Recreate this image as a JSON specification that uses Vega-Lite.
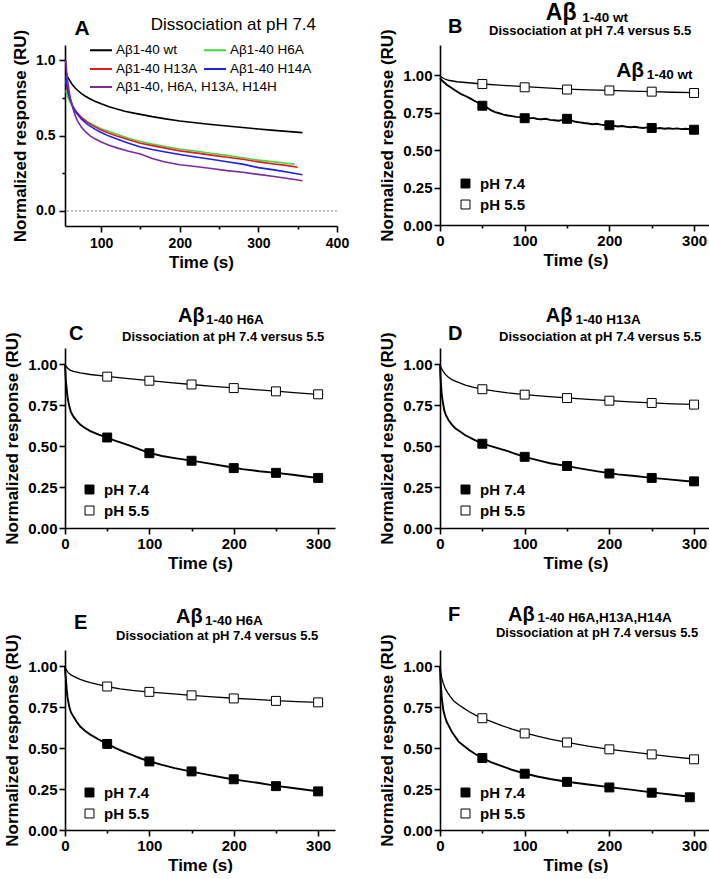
{
"$schema": "https://vega.github.io/schema/vega-lite/v6.json",
"padding": {"left": 3, "top": 1, "right": 0, "bottom": 0},
"autosize": {"type": "pad"},
"config": {
 "view": {"stroke": null},
 "font": "Liberation Sans",
 "axis": {"grid": false, "domainColor": "black", "domainWidth": 1.6, "tickColor": "black", "tickWidth": 1.6, "tickSize": 6, "labelFont": "Liberation Sans", "labelFontSize": 15, "labelFontWeight": "bold", "labelColor": "black", "labelPadding": 2, "titleFont": "Liberation Sans", "titleFontSize": 17, "titleFontWeight": "bold", "titleColor": "black", "labelOverlap": false},
 "axisX": {"titlePadding": 4, "labelFlush": false},
 "axisY": {"titlePadding": 6},
 "legend": {"labelFont": "Liberation Sans", "labelColor": "black", "padding": 0, "labelLimit": 400},
 "text": {"font": "Liberation Sans", "color": "black", "align": "left", "baseline": "alphabetic"}
},
"datasets": {
 "A": [
  {"s":"Aβ1-40 wt","t":55,"v":0.92},{"s":"Aβ1-40 wt","t":57,"v":0.89},{"s":"Aβ1-40 wt","t":60,"v":0.865},{"s":"Aβ1-40 wt","t":63,"v":0.84},{"s":"Aβ1-40 wt","t":67,"v":0.815},{"s":"Aβ1-40 wt","t":71,"v":0.795},{"s":"Aβ1-40 wt","t":75,"v":0.778},{"s":"Aβ1-40 wt","t":80,"v":0.76},{"s":"Aβ1-40 wt","t":85,"v":0.745},{"s":"Aβ1-40 wt","t":92,"v":0.727},{"s":"Aβ1-40 wt","t":100,"v":0.71},{"s":"Aβ1-40 wt","t":110,"v":0.691},{"s":"Aβ1-40 wt","t":120,"v":0.675},{"s":"Aβ1-40 wt","t":130,"v":0.661},{"s":"Aβ1-40 wt","t":140,"v":0.65},{"s":"Aβ1-40 wt","t":150,"v":0.64},{"s":"Aβ1-40 wt","t":165,"v":0.625},{"s":"Aβ1-40 wt","t":180,"v":0.612},{"s":"Aβ1-40 wt","t":200,"v":0.596},{"s":"Aβ1-40 wt","t":220,"v":0.584},{"s":"Aβ1-40 wt","t":240,"v":0.573},{"s":"Aβ1-40 wt","t":260,"v":0.563},{"s":"Aβ1-40 wt","t":280,"v":0.553},{"s":"Aβ1-40 wt","t":300,"v":0.543},{"s":"Aβ1-40 wt","t":320,"v":0.534},{"s":"Aβ1-40 wt","t":340,"v":0.526},{"s":"Aβ1-40 wt","t":356,"v":0.519},
  {"s":"Aβ1-40 H6A","t":55,"v":0.8},{"s":"Aβ1-40 H6A","t":57,"v":0.765},{"s":"Aβ1-40 H6A","t":60,"v":0.725},{"s":"Aβ1-40 H6A","t":64,"v":0.685},{"s":"Aβ1-40 H6A","t":68,"v":0.655},{"s":"Aβ1-40 H6A","t":75,"v":0.62},{"s":"Aβ1-40 H6A","t":83,"v":0.59},{"s":"Aβ1-40 H6A","t":92,"v":0.565},{"s":"Aβ1-40 H6A","t":100,"v":0.545},{"s":"Aβ1-40 H6A","t":110,"v":0.526},{"s":"Aβ1-40 H6A","t":120,"v":0.508},{"s":"Aβ1-40 H6A","t":135,"v":0.482},{"s":"Aβ1-40 H6A","t":150,"v":0.46},{"s":"Aβ1-40 H6A","t":165,"v":0.443},{"s":"Aβ1-40 H6A","t":180,"v":0.429},{"s":"Aβ1-40 H6A","t":200,"v":0.411},{"s":"Aβ1-40 H6A","t":220,"v":0.397},{"s":"Aβ1-40 H6A","t":240,"v":0.382},{"s":"Aβ1-40 H6A","t":260,"v":0.368},{"s":"Aβ1-40 H6A","t":280,"v":0.352},{"s":"Aβ1-40 H6A","t":300,"v":0.337},{"s":"Aβ1-40 H6A","t":320,"v":0.325},{"s":"Aβ1-40 H6A","t":335,"v":0.316},{"s":"Aβ1-40 H6A","t":346,"v":0.31},
  {"s":"Aβ1-40 H13A","t":55,"v":0.87},{"s":"Aβ1-40 H13A","t":57,"v":0.8},{"s":"Aβ1-40 H13A","t":60,"v":0.745},{"s":"Aβ1-40 H13A","t":64,"v":0.695},{"s":"Aβ1-40 H13A","t":68,"v":0.66},{"s":"Aβ1-40 H13A","t":75,"v":0.618},{"s":"Aβ1-40 H13A","t":83,"v":0.585},{"s":"Aβ1-40 H13A","t":92,"v":0.557},{"s":"Aβ1-40 H13A","t":100,"v":0.536},{"s":"Aβ1-40 H13A","t":110,"v":0.515},{"s":"Aβ1-40 H13A","t":120,"v":0.497},{"s":"Aβ1-40 H13A","t":135,"v":0.472},{"s":"Aβ1-40 H13A","t":150,"v":0.449},{"s":"Aβ1-40 H13A","t":165,"v":0.433},{"s":"Aβ1-40 H13A","t":180,"v":0.418},{"s":"Aβ1-40 H13A","t":200,"v":0.398},{"s":"Aβ1-40 H13A","t":220,"v":0.385},{"s":"Aβ1-40 H13A","t":240,"v":0.37},{"s":"Aβ1-40 H13A","t":260,"v":0.356},{"s":"Aβ1-40 H13A","t":280,"v":0.342},{"s":"Aβ1-40 H13A","t":300,"v":0.325},{"s":"Aβ1-40 H13A","t":320,"v":0.311},{"s":"Aβ1-40 H13A","t":335,"v":0.302},{"s":"Aβ1-40 H13A","t":350,"v":0.29},
  {"s":"Aβ1-40 H14A","t":55,"v":0.9},{"s":"Aβ1-40 H14A","t":57,"v":0.81},{"s":"Aβ1-40 H14A","t":60,"v":0.745},{"s":"Aβ1-40 H14A","t":64,"v":0.69},{"s":"Aβ1-40 H14A","t":68,"v":0.652},{"s":"Aβ1-40 H14A","t":75,"v":0.608},{"s":"Aβ1-40 H14A","t":83,"v":0.572},{"s":"Aβ1-40 H14A","t":92,"v":0.542},{"s":"Aβ1-40 H14A","t":100,"v":0.52},{"s":"Aβ1-40 H14A","t":110,"v":0.496},{"s":"Aβ1-40 H14A","t":120,"v":0.476},{"s":"Aβ1-40 H14A","t":135,"v":0.448},{"s":"Aβ1-40 H14A","t":150,"v":0.424},{"s":"Aβ1-40 H14A","t":165,"v":0.407},{"s":"Aβ1-40 H14A","t":180,"v":0.392},{"s":"Aβ1-40 H14A","t":200,"v":0.374},{"s":"Aβ1-40 H14A","t":220,"v":0.358},{"s":"Aβ1-40 H14A","t":240,"v":0.343},{"s":"Aβ1-40 H14A","t":260,"v":0.326},{"s":"Aβ1-40 H14A","t":280,"v":0.31},{"s":"Aβ1-40 H14A","t":300,"v":0.287},{"s":"Aβ1-40 H14A","t":320,"v":0.272},{"s":"Aβ1-40 H14A","t":340,"v":0.255},{"s":"Aβ1-40 H14A","t":356,"v":0.24},
  {"s":"Aβ1-40, H6A, H13A, H14H","t":55,"v":1.0},{"s":"Aβ1-40, H6A, H13A, H14H","t":56,"v":0.93},{"s":"Aβ1-40, H6A, H13A, H14H","t":58,"v":0.84},{"s":"Aβ1-40, H6A, H13A, H14H","t":60,"v":0.77},{"s":"Aβ1-40, H6A, H13A, H14H","t":63,"v":0.7},{"s":"Aβ1-40, H6A, H13A, H14H","t":66,"v":0.645},{"s":"Aβ1-40, H6A, H13A, H14H","t":70,"v":0.595},{"s":"Aβ1-40, H6A, H13A, H14H","t":75,"v":0.555},{"s":"Aβ1-40, H6A, H13A, H14H","t":80,"v":0.525},{"s":"Aβ1-40, H6A, H13A, H14H","t":86,"v":0.498},{"s":"Aβ1-40, H6A, H13A, H14H","t":92,"v":0.478},{"s":"Aβ1-40, H6A, H13A, H14H","t":100,"v":0.457},{"s":"Aβ1-40, H6A, H13A, H14H","t":110,"v":0.436},{"s":"Aβ1-40, H6A, H13A, H14H","t":120,"v":0.418},{"s":"Aβ1-40, H6A, H13A, H14H","t":135,"v":0.396},{"s":"Aβ1-40, H6A, H13A, H14H","t":150,"v":0.378},{"s":"Aβ1-40, H6A, H13A, H14H","t":165,"v":0.347},{"s":"Aβ1-40, H6A, H13A, H14H","t":180,"v":0.326},{"s":"Aβ1-40, H6A, H13A, H14H","t":200,"v":0.306},{"s":"Aβ1-40, H6A, H13A, H14H","t":220,"v":0.294},{"s":"Aβ1-40, H6A, H13A, H14H","t":240,"v":0.281},{"s":"Aβ1-40, H6A, H13A, H14H","t":260,"v":0.267},{"s":"Aβ1-40, H6A, H13A, H14H","t":280,"v":0.256},{"s":"Aβ1-40, H6A, H13A, H14H","t":300,"v":0.242},{"s":"Aβ1-40, H6A, H13A, H14H","t":320,"v":0.228},{"s":"Aβ1-40, H6A, H13A, H14H","t":340,"v":0.213},{"s":"Aβ1-40, H6A, H13A, H14H","t":356,"v":0.2}
 ],
 "curves": [
  {"p":"B","ph":"pH 5.5","t":0,"v":0.995},{"p":"B","ph":"pH 5.5","t":2,"v":0.985},{"p":"B","ph":"pH 5.5","t":5,"v":0.975},{"p":"B","ph":"pH 5.5","t":10,"v":0.965},{"p":"B","ph":"pH 5.5","t":20,"v":0.955},{"p":"B","ph":"pH 5.5","t":30,"v":0.95},{"p":"B","ph":"pH 5.5","t":40,"v":0.945},{"p":"B","ph":"pH 5.5","t":50,"v":0.94},{"p":"B","ph":"pH 5.5","t":70,"v":0.932},{"p":"B","ph":"pH 5.5","t":100,"v":0.922},{"p":"B","ph":"pH 5.5","t":130,"v":0.912},{"p":"B","ph":"pH 5.5","t":150,"v":0.906},{"p":"B","ph":"pH 5.5","t":175,"v":0.901},{"p":"B","ph":"pH 5.5","t":200,"v":0.897},{"p":"B","ph":"pH 5.5","t":225,"v":0.893},{"p":"B","ph":"pH 5.5","t":250,"v":0.889},{"p":"B","ph":"pH 5.5","t":275,"v":0.885},{"p":"B","ph":"pH 5.5","t":300,"v":0.882},{"p":"B","ph":"pH 5.5","t":306,"v":0.881},
  {"p":"B","ph":"pH 7.4","t":0,"v":0.98},{"p":"B","ph":"pH 7.4","t":2,"v":0.965},{"p":"B","ph":"pH 7.4","t":5,"v":0.95},{"p":"B","ph":"pH 7.4","t":8,"v":0.935},{"p":"B","ph":"pH 7.4","t":12,"v":0.92},{"p":"B","ph":"pH 7.4","t":16,"v":0.905},{"p":"B","ph":"pH 7.4","t":20,"v":0.89},{"p":"B","ph":"pH 7.4","t":25,"v":0.873},{"p":"B","ph":"pH 7.4","t":30,"v":0.86},{"p":"B","ph":"pH 7.4","t":35,"v":0.846},{"p":"B","ph":"pH 7.4","t":40,"v":0.83},{"p":"B","ph":"pH 7.4","t":45,"v":0.815},{"p":"B","ph":"pH 7.4","t":50,"v":0.8},{"p":"B","ph":"pH 7.4","t":55,"v":0.785},{"p":"B","ph":"pH 7.4","t":60,"v":0.766},{"p":"B","ph":"pH 7.4","t":65,"v":0.753},{"p":"B","ph":"pH 7.4","t":70,"v":0.745},{"p":"B","ph":"pH 7.4","t":75,"v":0.736},{"p":"B","ph":"pH 7.4","t":80,"v":0.73},{"p":"B","ph":"pH 7.4","t":85,"v":0.726},{"p":"B","ph":"pH 7.4","t":90,"v":0.721},{"p":"B","ph":"pH 7.4","t":95,"v":0.719},{"p":"B","ph":"pH 7.4","t":100,"v":0.715},{"p":"B","ph":"pH 7.4","t":105,"v":0.711},{"p":"B","ph":"pH 7.4","t":110,"v":0.714},{"p":"B","ph":"pH 7.4","t":115,"v":0.707},{"p":"B","ph":"pH 7.4","t":120,"v":0.705},{"p":"B","ph":"pH 7.4","t":125,"v":0.708},{"p":"B","ph":"pH 7.4","t":130,"v":0.701},{"p":"B","ph":"pH 7.4","t":135,"v":0.698},{"p":"B","ph":"pH 7.4","t":140,"v":0.695},{"p":"B","ph":"pH 7.4","t":145,"v":0.701},{"p":"B","ph":"pH 7.4","t":150,"v":0.704},{"p":"B","ph":"pH 7.4","t":155,"v":0.697},{"p":"B","ph":"pH 7.4","t":160,"v":0.688},{"p":"B","ph":"pH 7.4","t":165,"v":0.684},{"p":"B","ph":"pH 7.4","t":170,"v":0.68},{"p":"B","ph":"pH 7.4","t":175,"v":0.677},{"p":"B","ph":"pH 7.4","t":180,"v":0.672},{"p":"B","ph":"pH 7.4","t":185,"v":0.675},{"p":"B","ph":"pH 7.4","t":190,"v":0.669},{"p":"B","ph":"pH 7.4","t":195,"v":0.667},{"p":"B","ph":"pH 7.4","t":200,"v":0.668},{"p":"B","ph":"pH 7.4","t":205,"v":0.662},{"p":"B","ph":"pH 7.4","t":210,"v":0.657},{"p":"B","ph":"pH 7.4","t":215,"v":0.66},{"p":"B","ph":"pH 7.4","t":220,"v":0.655},{"p":"B","ph":"pH 7.4","t":225,"v":0.652},{"p":"B","ph":"pH 7.4","t":230,"v":0.655},{"p":"B","ph":"pH 7.4","t":235,"v":0.65},{"p":"B","ph":"pH 7.4","t":240,"v":0.647},{"p":"B","ph":"pH 7.4","t":245,"v":0.651},{"p":"B","ph":"pH 7.4","t":250,"v":0.648},{"p":"B","ph":"pH 7.4","t":255,"v":0.644},{"p":"B","ph":"pH 7.4","t":260,"v":0.647},{"p":"B","ph":"pH 7.4","t":265,"v":0.642},{"p":"B","ph":"pH 7.4","t":270,"v":0.645},{"p":"B","ph":"pH 7.4","t":275,"v":0.641},{"p":"B","ph":"pH 7.4","t":280,"v":0.644},{"p":"B","ph":"pH 7.4","t":285,"v":0.639},{"p":"B","ph":"pH 7.4","t":290,"v":0.642},{"p":"B","ph":"pH 7.4","t":295,"v":0.638},{"p":"B","ph":"pH 7.4","t":300,"v":0.636},
  {"p":"C","ph":"pH 5.5","t":0,"v":1.0},{"p":"C","ph":"pH 5.5","t":1,"v":0.99},{"p":"C","ph":"pH 5.5","t":3,"v":0.978},{"p":"C","ph":"pH 5.5","t":6,"v":0.965},{"p":"C","ph":"pH 5.5","t":10,"v":0.957},{"p":"C","ph":"pH 5.5","t":18,"v":0.948},{"p":"C","ph":"pH 5.5","t":30,"v":0.938},{"p":"C","ph":"pH 5.5","t":50,"v":0.926},{"p":"C","ph":"pH 5.5","t":75,"v":0.913},{"p":"C","ph":"pH 5.5","t":100,"v":0.9},{"p":"C","ph":"pH 5.5","t":125,"v":0.888},{"p":"C","ph":"pH 5.5","t":150,"v":0.877},{"p":"C","ph":"pH 5.5","t":175,"v":0.866},{"p":"C","ph":"pH 5.5","t":200,"v":0.856},{"p":"C","ph":"pH 5.5","t":225,"v":0.846},{"p":"C","ph":"pH 5.5","t":250,"v":0.836},{"p":"C","ph":"pH 5.5","t":275,"v":0.826},{"p":"C","ph":"pH 5.5","t":300,"v":0.817},{"p":"C","ph":"pH 5.5","t":306,"v":0.815},
  {"p":"C","ph":"pH 7.4","t":0,"v":1.0},{"p":"C","ph":"pH 7.4","t":0.5,"v":0.94},{"p":"C","ph":"pH 7.4","t":1,"v":0.9},{"p":"C","ph":"pH 7.4","t":2,"v":0.85},{"p":"C","ph":"pH 7.4","t":3,"v":0.8},{"p":"C","ph":"pH 7.4","t":5,"v":0.745},{"p":"C","ph":"pH 7.4","t":7,"v":0.71},{"p":"C","ph":"pH 7.4","t":10,"v":0.68},{"p":"C","ph":"pH 7.4","t":14,"v":0.655},{"p":"C","ph":"pH 7.4","t":18,"v":0.632},{"p":"C","ph":"pH 7.4","t":24,"v":0.61},{"p":"C","ph":"pH 7.4","t":30,"v":0.592},{"p":"C","ph":"pH 7.4","t":40,"v":0.57},{"p":"C","ph":"pH 7.4","t":50,"v":0.552},{"p":"C","ph":"pH 7.4","t":60,"v":0.533},{"p":"C","ph":"pH 7.4","t":70,"v":0.515},{"p":"C","ph":"pH 7.4","t":80,"v":0.497},{"p":"C","ph":"pH 7.4","t":90,"v":0.477},{"p":"C","ph":"pH 7.4","t":100,"v":0.459},{"p":"C","ph":"pH 7.4","t":115,"v":0.44},{"p":"C","ph":"pH 7.4","t":130,"v":0.427},{"p":"C","ph":"pH 7.4","t":150,"v":0.412},{"p":"C","ph":"pH 7.4","t":170,"v":0.395},{"p":"C","ph":"pH 7.4","t":190,"v":0.377},{"p":"C","ph":"pH 7.4","t":210,"v":0.36},{"p":"C","ph":"pH 7.4","t":230,"v":0.347},{"p":"C","ph":"pH 7.4","t":250,"v":0.337},{"p":"C","ph":"pH 7.4","t":270,"v":0.325},{"p":"C","ph":"pH 7.4","t":290,"v":0.312},{"p":"C","ph":"pH 7.4","t":300,"v":0.306},
  {"p":"D","ph":"pH 5.5","t":0,"v":1.0},{"p":"D","ph":"pH 5.5","t":1,"v":0.985},{"p":"D","ph":"pH 5.5","t":2,"v":0.972},{"p":"D","ph":"pH 5.5","t":4,"v":0.955},{"p":"D","ph":"pH 5.5","t":7,"v":0.935},{"p":"D","ph":"pH 5.5","t":10,"v":0.921},{"p":"D","ph":"pH 5.5","t":14,"v":0.907},{"p":"D","ph":"pH 5.5","t":18,"v":0.898},{"p":"D","ph":"pH 5.5","t":24,"v":0.885},{"p":"D","ph":"pH 5.5","t":30,"v":0.873},{"p":"D","ph":"pH 5.5","t":40,"v":0.86},{"p":"D","ph":"pH 5.5","t":50,"v":0.849},{"p":"D","ph":"pH 5.5","t":65,"v":0.836},{"p":"D","ph":"pH 5.5","t":80,"v":0.826},{"p":"D","ph":"pH 5.5","t":100,"v":0.815},{"p":"D","ph":"pH 5.5","t":125,"v":0.804},{"p":"D","ph":"pH 5.5","t":150,"v":0.795},{"p":"D","ph":"pH 5.5","t":175,"v":0.786},{"p":"D","ph":"pH 5.5","t":200,"v":0.778},{"p":"D","ph":"pH 5.5","t":225,"v":0.771},{"p":"D","ph":"pH 5.5","t":250,"v":0.765},{"p":"D","ph":"pH 5.5","t":275,"v":0.759},{"p":"D","ph":"pH 5.5","t":300,"v":0.755},{"p":"D","ph":"pH 5.5","t":306,"v":0.754},
  {"p":"D","ph":"pH 7.4","t":0,"v":1.0},{"p":"D","ph":"pH 7.4","t":0.5,"v":0.93},{"p":"D","ph":"pH 7.4","t":1,"v":0.89},{"p":"D","ph":"pH 7.4","t":2,"v":0.82},{"p":"D","ph":"pH 7.4","t":3,"v":0.78},{"p":"D","ph":"pH 7.4","t":5,"v":0.72},{"p":"D","ph":"pH 7.4","t":7,"v":0.69},{"p":"D","ph":"pH 7.4","t":10,"v":0.66},{"p":"D","ph":"pH 7.4","t":14,"v":0.632},{"p":"D","ph":"pH 7.4","t":18,"v":0.61},{"p":"D","ph":"pH 7.4","t":24,"v":0.588},{"p":"D","ph":"pH 7.4","t":30,"v":0.567},{"p":"D","ph":"pH 7.4","t":40,"v":0.54},{"p":"D","ph":"pH 7.4","t":50,"v":0.516},{"p":"D","ph":"pH 7.4","t":60,"v":0.5},{"p":"D","ph":"pH 7.4","t":70,"v":0.485},{"p":"D","ph":"pH 7.4","t":80,"v":0.47},{"p":"D","ph":"pH 7.4","t":90,"v":0.452},{"p":"D","ph":"pH 7.4","t":100,"v":0.435},{"p":"D","ph":"pH 7.4","t":115,"v":0.415},{"p":"D","ph":"pH 7.4","t":130,"v":0.396},{"p":"D","ph":"pH 7.4","t":150,"v":0.378},{"p":"D","ph":"pH 7.4","t":170,"v":0.36},{"p":"D","ph":"pH 7.4","t":190,"v":0.343},{"p":"D","ph":"pH 7.4","t":210,"v":0.328},{"p":"D","ph":"pH 7.4","t":230,"v":0.318},{"p":"D","ph":"pH 7.4","t":250,"v":0.306},{"p":"D","ph":"pH 7.4","t":270,"v":0.297},{"p":"D","ph":"pH 7.4","t":290,"v":0.287},{"p":"D","ph":"pH 7.4","t":300,"v":0.283},
  {"p":"E","ph":"pH 5.5","t":0,"v":1.0},{"p":"E","ph":"pH 5.5","t":1,"v":0.985},{"p":"E","ph":"pH 5.5","t":2,"v":0.975},{"p":"E","ph":"pH 5.5","t":4,"v":0.96},{"p":"E","ph":"pH 5.5","t":7,"v":0.948},{"p":"E","ph":"pH 5.5","t":10,"v":0.94},{"p":"E","ph":"pH 5.5","t":14,"v":0.93},{"p":"E","ph":"pH 5.5","t":18,"v":0.92},{"p":"E","ph":"pH 5.5","t":24,"v":0.91},{"p":"E","ph":"pH 5.5","t":30,"v":0.9},{"p":"E","ph":"pH 5.5","t":40,"v":0.888},{"p":"E","ph":"pH 5.5","t":50,"v":0.877},{"p":"E","ph":"pH 5.5","t":65,"v":0.863},{"p":"E","ph":"pH 5.5","t":80,"v":0.853},{"p":"E","ph":"pH 5.5","t":100,"v":0.843},{"p":"E","ph":"pH 5.5","t":125,"v":0.833},{"p":"E","ph":"pH 5.5","t":150,"v":0.823},{"p":"E","ph":"pH 5.5","t":175,"v":0.814},{"p":"E","ph":"pH 5.5","t":200,"v":0.805},{"p":"E","ph":"pH 5.5","t":225,"v":0.798},{"p":"E","ph":"pH 5.5","t":250,"v":0.791},{"p":"E","ph":"pH 5.5","t":275,"v":0.785},{"p":"E","ph":"pH 5.5","t":300,"v":0.78},{"p":"E","ph":"pH 5.5","t":306,"v":0.779},
  {"p":"E","ph":"pH 7.4","t":0,"v":1.0},{"p":"E","ph":"pH 7.4","t":0.5,"v":0.95},{"p":"E","ph":"pH 7.4","t":1,"v":0.93},{"p":"E","ph":"pH 7.4","t":2,"v":0.86},{"p":"E","ph":"pH 7.4","t":3,"v":0.81},{"p":"E","ph":"pH 7.4","t":5,"v":0.755},{"p":"E","ph":"pH 7.4","t":7,"v":0.72},{"p":"E","ph":"pH 7.4","t":10,"v":0.693},{"p":"E","ph":"pH 7.4","t":14,"v":0.66},{"p":"E","ph":"pH 7.4","t":18,"v":0.632},{"p":"E","ph":"pH 7.4","t":24,"v":0.605},{"p":"E","ph":"pH 7.4","t":30,"v":0.583},{"p":"E","ph":"pH 7.4","t":40,"v":0.553},{"p":"E","ph":"pH 7.4","t":50,"v":0.526},{"p":"E","ph":"pH 7.4","t":60,"v":0.5},{"p":"E","ph":"pH 7.4","t":70,"v":0.478},{"p":"E","ph":"pH 7.4","t":80,"v":0.457},{"p":"E","ph":"pH 7.4","t":90,"v":0.437},{"p":"E","ph":"pH 7.4","t":100,"v":0.42},{"p":"E","ph":"pH 7.4","t":115,"v":0.398},{"p":"E","ph":"pH 7.4","t":130,"v":0.378},{"p":"E","ph":"pH 7.4","t":150,"v":0.357},{"p":"E","ph":"pH 7.4","t":170,"v":0.337},{"p":"E","ph":"pH 7.4","t":190,"v":0.318},{"p":"E","ph":"pH 7.4","t":210,"v":0.302},{"p":"E","ph":"pH 7.4","t":230,"v":0.287},{"p":"E","ph":"pH 7.4","t":250,"v":0.27},{"p":"E","ph":"pH 7.4","t":270,"v":0.257},{"p":"E","ph":"pH 7.4","t":290,"v":0.243},{"p":"E","ph":"pH 7.4","t":300,"v":0.237},
  {"p":"F","ph":"pH 5.5","t":0,"v":1.0},{"p":"F","ph":"pH 5.5","t":1,"v":0.96},{"p":"F","ph":"pH 5.5","t":2,"v":0.93},{"p":"F","ph":"pH 5.5","t":4,"v":0.895},{"p":"F","ph":"pH 5.5","t":6,"v":0.867},{"p":"F","ph":"pH 5.5","t":9,"v":0.84},{"p":"F","ph":"pH 5.5","t":12,"v":0.816},{"p":"F","ph":"pH 5.5","t":16,"v":0.79},{"p":"F","ph":"pH 5.5","t":22,"v":0.765},{"p":"F","ph":"pH 5.5","t":28,"v":0.745},{"p":"F","ph":"pH 5.5","t":34,"v":0.724},{"p":"F","ph":"pH 5.5","t":42,"v":0.702},{"p":"F","ph":"pH 5.5","t":50,"v":0.683},{"p":"F","ph":"pH 5.5","t":60,"v":0.664},{"p":"F","ph":"pH 5.5","t":73,"v":0.638},{"p":"F","ph":"pH 5.5","t":85,"v":0.617},{"p":"F","ph":"pH 5.5","t":100,"v":0.593},{"p":"F","ph":"pH 5.5","t":115,"v":0.573},{"p":"F","ph":"pH 5.5","t":130,"v":0.555},{"p":"F","ph":"pH 5.5","t":150,"v":0.535},{"p":"F","ph":"pH 5.5","t":175,"v":0.512},{"p":"F","ph":"pH 5.5","t":200,"v":0.493},{"p":"F","ph":"pH 5.5","t":225,"v":0.477},{"p":"F","ph":"pH 5.5","t":250,"v":0.462},{"p":"F","ph":"pH 5.5","t":275,"v":0.447},{"p":"F","ph":"pH 5.5","t":300,"v":0.434},{"p":"F","ph":"pH 5.5","t":306,"v":0.431},
  {"p":"F","ph":"pH 7.4","t":0,"v":1.0},{"p":"F","ph":"pH 7.4","t":0.5,"v":0.93},{"p":"F","ph":"pH 7.4","t":1,"v":0.89},{"p":"F","ph":"pH 7.4","t":2,"v":0.81},{"p":"F","ph":"pH 7.4","t":4,"v":0.73},{"p":"F","ph":"pH 7.4","t":6,"v":0.69},{"p":"F","ph":"pH 7.4","t":8,"v":0.66},{"p":"F","ph":"pH 7.4","t":11,"v":0.63},{"p":"F","ph":"pH 7.4","t":14,"v":0.6},{"p":"F","ph":"pH 7.4","t":18,"v":0.57},{"p":"F","ph":"pH 7.4","t":22,"v":0.54},{"p":"F","ph":"pH 7.4","t":28,"v":0.515},{"p":"F","ph":"pH 7.4","t":34,"v":0.49},{"p":"F","ph":"pH 7.4","t":42,"v":0.463},{"p":"F","ph":"pH 7.4","t":50,"v":0.44},{"p":"F","ph":"pH 7.4","t":60,"v":0.415},{"p":"F","ph":"pH 7.4","t":73,"v":0.39},{"p":"F","ph":"pH 7.4","t":85,"v":0.368},{"p":"F","ph":"pH 7.4","t":100,"v":0.345},{"p":"F","ph":"pH 7.4","t":115,"v":0.327},{"p":"F","ph":"pH 7.4","t":130,"v":0.312},{"p":"F","ph":"pH 7.4","t":150,"v":0.295},{"p":"F","ph":"pH 7.4","t":175,"v":0.278},{"p":"F","ph":"pH 7.4","t":200,"v":0.262},{"p":"F","ph":"pH 7.4","t":225,"v":0.247},{"p":"F","ph":"pH 7.4","t":250,"v":0.23},{"p":"F","ph":"pH 7.4","t":275,"v":0.215},{"p":"F","ph":"pH 7.4","t":295,"v":0.203}
 ],
 "markers": [
  {"p":"B","ph":"pH 7.4","t":50,"v":0.795},{"p":"B","ph":"pH 7.4","t":100,"v":0.712},{"p":"B","ph":"pH 7.4","t":150,"v":0.708},{"p":"B","ph":"pH 7.4","t":200,"v":0.665},{"p":"B","ph":"pH 7.4","t":250,"v":0.647},{"p":"B","ph":"pH 7.4","t":300,"v":0.635},
  {"p":"B","ph":"pH 5.5","t":50,"v":0.94},{"p":"B","ph":"pH 5.5","t":100,"v":0.918},{"p":"B","ph":"pH 5.5","t":150,"v":0.903},{"p":"B","ph":"pH 5.5","t":200,"v":0.897},{"p":"B","ph":"pH 5.5","t":250,"v":0.889},{"p":"B","ph":"pH 5.5","t":300,"v":0.88},
  {"p":"C","ph":"pH 7.4","t":50,"v":0.553},{"p":"C","ph":"pH 7.4","t":100,"v":0.457},{"p":"C","ph":"pH 7.4","t":150,"v":0.411},{"p":"C","ph":"pH 7.4","t":200,"v":0.366},{"p":"C","ph":"pH 7.4","t":250,"v":0.337},{"p":"C","ph":"pH 7.4","t":300,"v":0.306},
  {"p":"C","ph":"pH 5.5","t":50,"v":0.925},{"p":"C","ph":"pH 5.5","t":100,"v":0.9},{"p":"C","ph":"pH 5.5","t":150,"v":0.877},{"p":"C","ph":"pH 5.5","t":200,"v":0.855},{"p":"C","ph":"pH 5.5","t":250,"v":0.835},{"p":"C","ph":"pH 5.5","t":300,"v":0.817},
  {"p":"D","ph":"pH 7.4","t":50,"v":0.515},{"p":"D","ph":"pH 7.4","t":100,"v":0.435},{"p":"D","ph":"pH 7.4","t":150,"v":0.379},{"p":"D","ph":"pH 7.4","t":200,"v":0.333},{"p":"D","ph":"pH 7.4","t":250,"v":0.306},{"p":"D","ph":"pH 7.4","t":300,"v":0.285},
  {"p":"D","ph":"pH 5.5","t":50,"v":0.848},{"p":"D","ph":"pH 5.5","t":100,"v":0.815},{"p":"D","ph":"pH 5.5","t":150,"v":0.794},{"p":"D","ph":"pH 5.5","t":200,"v":0.778},{"p":"D","ph":"pH 5.5","t":250,"v":0.764},{"p":"D","ph":"pH 5.5","t":300,"v":0.754},
  {"p":"E","ph":"pH 7.4","t":50,"v":0.526},{"p":"E","ph":"pH 7.4","t":100,"v":0.419},{"p":"E","ph":"pH 7.4","t":150,"v":0.358},{"p":"E","ph":"pH 7.4","t":200,"v":0.31},{"p":"E","ph":"pH 7.4","t":250,"v":0.268},{"p":"E","ph":"pH 7.4","t":300,"v":0.236},
  {"p":"E","ph":"pH 5.5","t":50,"v":0.877},{"p":"E","ph":"pH 5.5","t":100,"v":0.844},{"p":"E","ph":"pH 5.5","t":150,"v":0.823},{"p":"E","ph":"pH 5.5","t":200,"v":0.804},{"p":"E","ph":"pH 5.5","t":250,"v":0.789},{"p":"E","ph":"pH 5.5","t":300,"v":0.78},
  {"p":"F","ph":"pH 7.4","t":50,"v":0.44},{"p":"F","ph":"pH 7.4","t":100,"v":0.344},{"p":"F","ph":"pH 7.4","t":150,"v":0.294},{"p":"F","ph":"pH 7.4","t":200,"v":0.26},{"p":"F","ph":"pH 7.4","t":250,"v":0.228},{"p":"F","ph":"pH 7.4","t":295,"v":0.2},
  {"p":"F","ph":"pH 5.5","t":50,"v":0.683},{"p":"F","ph":"pH 5.5","t":100,"v":0.59},{"p":"F","ph":"pH 5.5","t":150,"v":0.535},{"p":"F","ph":"pH 5.5","t":200,"v":0.493},{"p":"F","ph":"pH 5.5","t":250,"v":0.462},{"p":"F","ph":"pH 5.5","t":300,"v":0.432}
 ]
},
"columns": 2,
"bounds": "flush",
"spacing": {"row": 122, "column": 103},
"resolve": {"scale": {"color": "independent", "fill": "independent"}, "legend": {"color": "independent", "fill": "independent"}},
"concat": [
 {
  "width": 272, "height": 181,
  "layer": [
   {"data": {"name": "A"}, "transform": [{"filter": "datum.s != 'Aβ1-40, H6A, H13A, H14H'"}],
    "mark": {"type": "line", "strokeWidth": 1.6},
    "encoding": {
     "x": {"field": "t", "type": "quantitative", "scale": {"domain": [54, 400], "nice": false, "zero": false}, "axis": {"title": "Time (s)", "values": [100,150,200,250,300,350,400], "labelExpr": "datum.value % 100 == 0 ? datum.label : ''", "tickSize": {"condition": {"test": "datum.value % 100 != 0", "value": 3}, "value": 6}, "labelFontSize": 14, "labelPadding": 4}},
     "y": {"field": "v", "type": "quantitative", "scale": {"domain": [-0.1, 1.1], "nice": false, "zero": false}, "axis": {"title": "Normalized response (RU)", "values": [0,0.25,0.5,0.75,1], "format": ".1f", "labelExpr": "datum.value % 0.5 == 0 ? datum.label : ''", "tickSize": {"condition": {"test": "datum.value % 0.5 != 0", "value": 3}, "value": 6}, "labelFontSize": 14, "labelPadding": 4}},
     "color": {"field": "s", "type": "nominal", "scale": {"domain": ["Aβ1-40 wt","Aβ1-40 H13A","Aβ1-40 H6A","Aβ1-40 H14A"], "range": ["#000000","#e8161f","#3fdc3f","#1b22e6"]},
      "legend": {"orient": "none", "legendX": 24, "legendY": -7, "columns": 2, "columnPadding": 2, "title": null, "symbolType": "stroke", "symbolSize": 484, "symbolStrokeWidth": 2, "labelFontSize": 13.5, "labelFontWeight": "normal", "rowPadding": -5, "labelOffset": 3, "padding": 0}}
    }},
   {"data": {"name": "A"}, "transform": [{"filter": "datum.s == 'Aβ1-40, H6A, H13A, H14H'"}],
    "mark": {"type": "line", "strokeWidth": 1.6},
    "encoding": {
     "x": {"field": "t", "type": "quantitative"},
     "y": {"field": "v", "type": "quantitative"},
     "color": {"field": "s", "type": "nominal", "scale": {"domain": ["Aβ1-40, H6A, H13A, H14H"], "range": ["#7d2aa0"]},
      "legend": {"orient": "none", "legendX": 24, "legendY": 30, "title": null, "symbolType": "stroke", "symbolSize": 484, "symbolStrokeWidth": 2, "labelFontSize": 13.5, "labelFontWeight": "normal", "labelOffset": 3, "padding": 0, "labelLimit": 400}}
    }},
   {"data": {"values": [{"y0": 0}]}, "mark": {"type": "rule", "strokeDash": [2,2], "color": "#888888", "strokeWidth": 1}, "encoding": {"y": {"field": "y0", "type": "quantitative"}}},
   {"data": {"values": [{"s": "A"}]}, "mark": {"type": "text", "fontSize": 21, "fontWeight": "bold"}, "encoding": {"x": {"datum": 66}, "y": {"datum": 1.166}, "text": {"field": "s"}}},
   {"data": {"values": [{"s": "Dissociation at pH 7.4"}]}, "mark": {"type": "text", "fontSize": 17}, "encoding": {"x": {"datum": 163}, "y": {"datum": 1.2}, "text": {"field": "s"}}}
  ],
  "resolve": {"scale": {"color": "independent"}, "legend": {"color": "independent"}}
 },
 {
  "width": 271, "height": 180,
  "layer": [
   {"data": {"name": "curves"}, "transform": [{"filter": "datum.p == 'B'"}],
    "mark": {"type": "line", "color": "black"},
    "encoding": {
     "x": {"field": "t", "type": "quantitative", "scale": {"domain": [0, 320], "nice": false}, "axis": {"title": "Time (s)", "values": [0,50,100,150,200,250,300], "labelExpr": "datum.value % 100 == 0 ? datum.label : ''", "tickSize": {"condition": {"test": "datum.value % 100 != 0", "value": 3}, "value": 6}}},
     "y": {"field": "v", "type": "quantitative", "scale": {"domain": [0, 1.2], "nice": false}, "axis": {"title": "Normalized response (RU)", "values": [0,0.125,0.25,0.375,0.5,0.625,0.75,0.875,1,1.125], "format": ".2f", "labelExpr": "datum.value % 0.25 == 0 ? datum.label : ''", "tickSize": {"condition": {"test": "datum.value % 0.25 != 0", "value": 3}, "value": 6}}},
     "detail": {"field": "ph", "type": "nominal"},
     "strokeWidth": {"field": "ph", "type": "ordinal", "scale": {"domain": ["pH 7.4","pH 5.5"], "range": [1.9, 1.3]}, "legend": null}
    }},
   {"data": {"name": "markers"}, "transform": [{"filter": "datum.p == 'B'"}],
    "mark": {"type": "point", "shape": "square", "filled": true, "stroke": "black", "strokeWidth": 1, "size": 80, "opacity": 1},
    "encoding": {
     "x": {"field": "t", "type": "quantitative"},
     "y": {"field": "v", "type": "quantitative"},
     "fill": {"field": "ph", "type": "nominal", "scale": {"domain": ["pH 7.4","pH 5.5"], "range": ["black","white"]},
      "legend": {"orient": "none", "legendX": 18, "legendY": 131, "title": null, "symbolType": "square", "symbolSize": 80, "symbolStrokeColor": "black", "symbolStrokeWidth": 1, "labelFontSize": 15, "labelFontWeight": "bold", "rowPadding": 5, "labelOffset": 7, "padding": 0}}
    }},
   {"data": {"values": [{"s": "B"}]}, "mark": {"type": "text", "fontSize": 20, "fontWeight": "bold"}, "encoding": {"x": {"datum": 9.4}, "y": {"datum": 1.28}, "text": {"field": "s"}}},
   {"data": {"values": [{"s": "Aβ"}]}, "mark": {"type": "text", "fontSize": 23, "fontWeight": "bold"}, "encoding": {"x": {"datum": 125}, "y": {"datum": 1.367}, "text": {"field": "s"}}},
   {"data": {"values": [{"s": "1-40 wt"}]}, "mark": {"type": "text", "fontSize": 13.5, "fontWeight": "bold"}, "encoding": {"x": {"datum": 168}, "y": {"datum": 1.356}, "text": {"field": "s"}}},
   {"data": {"values": [{"s": "Dissociation at pH 7.4 versus 5.5"}]}, "mark": {"type": "text", "fontSize": 13, "fontWeight": "bold"}, "encoding": {"x": {"datum": 57.9}, "y": {"datum": 1.267}, "text": {"field": "s"}}},
   {"data": {"values": [{"s": "Aβ"}]}, "mark": {"type": "text", "fontSize": 21, "fontWeight": "bold"}, "encoding": {"x": {"datum": 208}, "y": {"datum": 0.987}, "text": {"field": "s"}}},
   {"data": {"values": [{"s": "1-40 wt"}]}, "mark": {"type": "text", "fontSize": 13.5, "fontWeight": "bold"}, "encoding": {"x": {"datum": 244}, "y": {"datum": 0.973}, "text": {"field": "s"}}}
  ]
 },
 {
  "width": 270, "height": 180,
  "layer": [
   {"data": {"name": "curves"}, "transform": [{"filter": "datum.p == 'C'"}],
    "mark": {"type": "line", "color": "black"},
    "encoding": {
     "x": {"field": "t", "type": "quantitative", "scale": {"domain": [0, 320], "nice": false}, "axis": {"title": "Time (s)", "values": [0,50,100,150,200,250,300], "labelExpr": "datum.value % 100 == 0 ? datum.label : ''", "tickSize": {"condition": {"test": "datum.value % 100 != 0", "value": 3}, "value": 6}}},
     "y": {"field": "v", "type": "quantitative", "scale": {"domain": [0, 1.1], "nice": false}, "axis": {"title": "Normalized response (RU)", "values": [0,0.125,0.25,0.375,0.5,0.625,0.75,0.875,1], "format": ".2f", "labelExpr": "datum.value % 0.25 == 0 ? datum.label : ''", "tickSize": {"condition": {"test": "datum.value % 0.25 != 0", "value": 3}, "value": 6}}},
     "detail": {"field": "ph", "type": "nominal"},
     "strokeWidth": {"field": "ph", "type": "ordinal", "scale": {"domain": ["pH 7.4","pH 5.5"], "range": [1.9, 1.3]}, "legend": null}
    }},
   {"data": {"name": "markers"}, "transform": [{"filter": "datum.p == 'C'"}],
    "mark": {"type": "point", "shape": "square", "filled": true, "stroke": "black", "strokeWidth": 1, "size": 80, "opacity": 1},
    "encoding": {
     "x": {"field": "t", "type": "quantitative"},
     "y": {"field": "v", "type": "quantitative"},
     "fill": {"field": "ph", "type": "nominal", "scale": {"domain": ["pH 7.4","pH 5.5"], "range": ["black","white"]},
      "legend": {"orient": "none", "legendX": 17, "legendY": 134, "title": null, "symbolType": "square", "symbolSize": 80, "symbolStrokeColor": "black", "symbolStrokeWidth": 1, "labelFontSize": 15, "labelFontWeight": "bold", "rowPadding": 5, "labelOffset": 7, "padding": 0}}
    }},
   {"data": {"values": [{"s": "C"}]}, "mark": {"type": "text", "fontSize": 20, "fontWeight": "bold"}, "encoding": {"x": {"datum": 4.7}, "y": {"datum": 1.149}, "text": {"field": "s"}}},
   {"data": {"values": [{"s": "Aβ"}]}, "mark": {"type": "text", "fontSize": 20, "fontWeight": "bold"}, "encoding": {"x": {"datum": 134}, "y": {"datum": 1.259}, "text": {"field": "s"}}},
   {"data": {"values": [{"s": "1-40 H6A"}]}, "mark": {"type": "text", "fontSize": 13.5, "fontWeight": "bold"}, "encoding": {"x": {"datum": 167}, "y": {"datum": 1.246}, "text": {"field": "s"}}},
   {"data": {"values": [{"s": "Dissociation at pH 7.4 versus 5.5"}]}, "mark": {"type": "text", "fontSize": 13, "fontWeight": "bold"}, "encoding": {"x": {"datum": 67.6}, "y": {"datum": 1.143}, "text": {"field": "s"}}}
  ]
 },
 {
  "width": 271, "height": 180,
  "layer": [
   {"data": {"name": "curves"}, "transform": [{"filter": "datum.p == 'D'"}],
    "mark": {"type": "line", "color": "black"},
    "encoding": {
     "x": {"field": "t", "type": "quantitative", "scale": {"domain": [0, 320], "nice": false}, "axis": {"title": "Time (s)", "values": [0,50,100,150,200,250,300], "labelExpr": "datum.value % 100 == 0 ? datum.label : ''", "tickSize": {"condition": {"test": "datum.value % 100 != 0", "value": 3}, "value": 6}}},
     "y": {"field": "v", "type": "quantitative", "scale": {"domain": [0, 1.1], "nice": false}, "axis": {"title": "Normalized response (RU)", "values": [0,0.125,0.25,0.375,0.5,0.625,0.75,0.875,1], "format": ".2f", "labelExpr": "datum.value % 0.25 == 0 ? datum.label : ''", "tickSize": {"condition": {"test": "datum.value % 0.25 != 0", "value": 3}, "value": 6}}},
     "detail": {"field": "ph", "type": "nominal"},
     "strokeWidth": {"field": "ph", "type": "ordinal", "scale": {"domain": ["pH 7.4","pH 5.5"], "range": [1.9, 1.3]}, "legend": null}
    }},
   {"data": {"name": "markers"}, "transform": [{"filter": "datum.p == 'D'"}],
    "mark": {"type": "point", "shape": "square", "filled": true, "stroke": "black", "strokeWidth": 1, "size": 80, "opacity": 1},
    "encoding": {
     "x": {"field": "t", "type": "quantitative"},
     "y": {"field": "v", "type": "quantitative"},
     "fill": {"field": "ph", "type": "nominal", "scale": {"domain": ["pH 7.4","pH 5.5"], "range": ["black","white"]},
      "legend": {"orient": "none", "legendX": 18, "legendY": 134, "title": null, "symbolType": "square", "symbolSize": 80, "symbolStrokeColor": "black", "symbolStrokeWidth": 1, "labelFontSize": 15, "labelFontWeight": "bold", "rowPadding": 5, "labelOffset": 7, "padding": 0}}
    }},
   {"data": {"values": [{"s": "D"}]}, "mark": {"type": "text", "fontSize": 20, "fontWeight": "bold"}, "encoding": {"x": {"datum": 9.4}, "y": {"datum": 1.149}, "text": {"field": "s"}}},
   {"data": {"values": [{"s": "Aβ"}]}, "mark": {"type": "text", "fontSize": 20, "fontWeight": "bold"}, "encoding": {"x": {"datum": 125}, "y": {"datum": 1.259}, "text": {"field": "s"}}},
   {"data": {"values": [{"s": "1-40 H13A"}]}, "mark": {"type": "text", "fontSize": 13.5, "fontWeight": "bold"}, "encoding": {"x": {"datum": 160}, "y": {"datum": 1.246}, "text": {"field": "s"}}},
   {"data": {"values": [{"s": "Dissociation at pH 7.4 versus 5.5"}]}, "mark": {"type": "text", "fontSize": 13, "fontWeight": "bold"}, "encoding": {"x": {"datum": 69.7}, "y": {"datum": 1.143}, "text": {"field": "s"}}}
  ]
 },
 {
  "width": 270, "height": 180,
  "layer": [
   {"data": {"name": "curves"}, "transform": [{"filter": "datum.p == 'E'"}],
    "mark": {"type": "line", "color": "black"},
    "encoding": {
     "x": {"field": "t", "type": "quantitative", "scale": {"domain": [0, 320], "nice": false}, "axis": {"title": "Time (s)", "values": [0,50,100,150,200,250,300], "labelExpr": "datum.value % 100 == 0 ? datum.label : ''", "tickSize": {"condition": {"test": "datum.value % 100 != 0", "value": 3}, "value": 6}}},
     "y": {"field": "v", "type": "quantitative", "scale": {"domain": [0, 1.1], "nice": false}, "axis": {"title": "Normalized response (RU)", "values": [0,0.125,0.25,0.375,0.5,0.625,0.75,0.875,1], "format": ".2f", "labelExpr": "datum.value % 0.25 == 0 ? datum.label : ''", "tickSize": {"condition": {"test": "datum.value % 0.25 != 0", "value": 3}, "value": 6}}},
     "detail": {"field": "ph", "type": "nominal"},
     "strokeWidth": {"field": "ph", "type": "ordinal", "scale": {"domain": ["pH 7.4","pH 5.5"], "range": [1.9, 1.3]}, "legend": null}
    }},
   {"data": {"name": "markers"}, "transform": [{"filter": "datum.p == 'E'"}],
    "mark": {"type": "point", "shape": "square", "filled": true, "stroke": "black", "strokeWidth": 1, "size": 80, "opacity": 1},
    "encoding": {
     "x": {"field": "t", "type": "quantitative"},
     "y": {"field": "v", "type": "quantitative"},
     "fill": {"field": "ph", "type": "nominal", "scale": {"domain": ["pH 7.4","pH 5.5"], "range": ["black","white"]},
      "legend": {"orient": "none", "legendX": 17, "legendY": 135, "title": null, "symbolType": "square", "symbolSize": 80, "symbolStrokeColor": "black", "symbolStrokeWidth": 1, "labelFontSize": 15, "labelFontWeight": "bold", "rowPadding": 5, "labelOffset": 7, "padding": 0}}
    }},
   {"data": {"values": [{"s": "E"}]}, "mark": {"type": "text", "fontSize": 20, "fontWeight": "bold"}, "encoding": {"x": {"datum": 10.7}, "y": {"datum": 1.228}, "text": {"field": "s"}}},
   {"data": {"values": [{"s": "Aβ"}]}, "mark": {"type": "text", "fontSize": 20, "fontWeight": "bold"}, "encoding": {"x": {"datum": 131.7}, "y": {"datum": 1.265}, "text": {"field": "s"}}},
   {"data": {"values": [{"s": "1-40 H6A"}]}, "mark": {"type": "text", "fontSize": 13.5, "fontWeight": "bold"}, "encoding": {"x": {"datum": 166}, "y": {"datum": 1.252}, "text": {"field": "s"}}},
   {"data": {"values": [{"s": "Dissociation at pH 7.4 versus 5.5"}]}, "mark": {"type": "text", "fontSize": 13, "fontWeight": "bold"}, "encoding": {"x": {"datum": 60.5}, "y": {"datum": 1.161}, "text": {"field": "s"}}}
  ]
 },
 {
  "width": 271, "height": 180,
  "layer": [
   {"data": {"name": "curves"}, "transform": [{"filter": "datum.p == 'F'"}],
    "mark": {"type": "line", "color": "black"},
    "encoding": {
     "x": {"field": "t", "type": "quantitative", "scale": {"domain": [0, 320], "nice": false}, "axis": {"title": "Time (s)", "values": [0,50,100,150,200,250,300], "labelExpr": "datum.value % 100 == 0 ? datum.label : ''", "tickSize": {"condition": {"test": "datum.value % 100 != 0", "value": 3}, "value": 6}}},
     "y": {"field": "v", "type": "quantitative", "scale": {"domain": [0, 1.1], "nice": false}, "axis": {"title": "Normalized response (RU)", "values": [0,0.125,0.25,0.375,0.5,0.625,0.75,0.875,1], "format": ".2f", "labelExpr": "datum.value % 0.25 == 0 ? datum.label : ''", "tickSize": {"condition": {"test": "datum.value % 0.25 != 0", "value": 3}, "value": 6}}},
     "detail": {"field": "ph", "type": "nominal"},
     "strokeWidth": {"field": "ph", "type": "ordinal", "scale": {"domain": ["pH 7.4","pH 5.5"], "range": [1.9, 1.3]}, "legend": null}
    }},
   {"data": {"name": "markers"}, "transform": [{"filter": "datum.p == 'F'"}],
    "mark": {"type": "point", "shape": "square", "filled": true, "stroke": "black", "strokeWidth": 1, "size": 80, "opacity": 1},
    "encoding": {
     "x": {"field": "t", "type": "quantitative"},
     "y": {"field": "v", "type": "quantitative"},
     "fill": {"field": "ph", "type": "nominal", "scale": {"domain": ["pH 7.4","pH 5.5"], "range": ["black","white"]},
      "legend": {"orient": "none", "legendX": 18, "legendY": 135, "title": null, "symbolType": "square", "symbolSize": 80, "symbolStrokeColor": "black", "symbolStrokeWidth": 1, "labelFontSize": 15, "labelFontWeight": "bold", "rowPadding": 5, "labelOffset": 7, "padding": 0}}
    }},
   {"data": {"values": [{"s": "F"}]}, "mark": {"type": "text", "fontSize": 20, "fontWeight": "bold"}, "encoding": {"x": {"datum": 9.4}, "y": {"datum": 1.277}, "text": {"field": "s"}}},
   {"data": {"values": [{"s": "Aβ"}]}, "mark": {"type": "text", "fontSize": 20, "fontWeight": "bold"}, "encoding": {"x": {"datum": 80.3}, "y": {"datum": 1.277}, "text": {"field": "s"}}},
   {"data": {"values": [{"s": "1-40 H6A,H13A,H14A"}]}, "mark": {"type": "text", "fontSize": 13.5, "fontWeight": "bold"}, "encoding": {"x": {"datum": 115}, "y": {"datum": 1.271}, "text": {"field": "s"}}},
   {"data": {"values": [{"s": "Dissociation at pH 7.4 versus 5.5"}]}, "mark": {"type": "text", "fontSize": 13, "fontWeight": "bold"}, "encoding": {"x": {"datum": 66}, "y": {"datum": 1.179}, "text": {"field": "s"}}}
  ]
 }
]
}
